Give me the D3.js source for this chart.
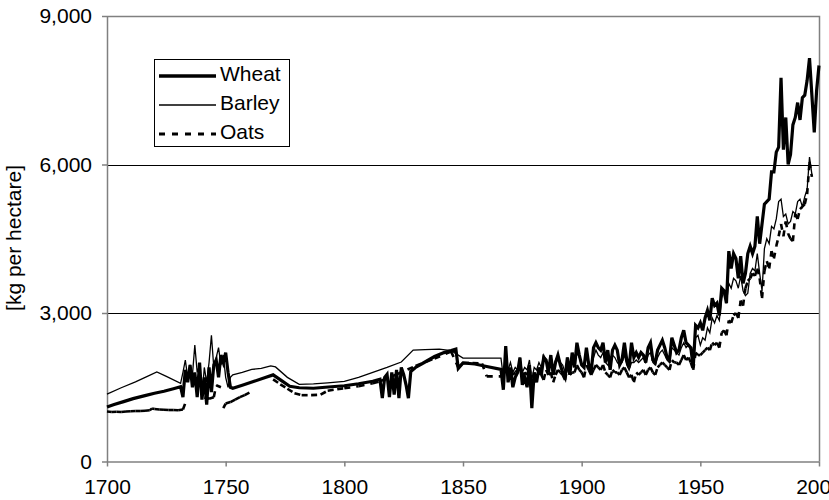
<!DOCTYPE html>
<html>
<head>
<meta charset="utf-8">
<script src="https://cdn.jsdelivr.net/npm/d3@7"></script>
<style>
body { margin: 0; background: #fff; }
text { font-family: "Liberation Sans", Arial, sans-serif; fill: #000; }
</style>
</head>
<body>
<svg id="chart" width="829" height="500"></svg>
<script>
// yields in kg per hectare, [year, value]; null breaks the line
const wheat = [
  [1700,1100],[1703,1150],[1707,1210],[1711,1270],[1716,1330],[1720,1380],[1724,1420],[1728,1470],[1731,1510],
  [1732,1300],[1733,1850],[1734,1600],[1735,1950],[1736,1500],[1737,1800],[1738,1300],[1739,2000],[1740,1250],
  [1741,1700],[1742,1150],[1743,1900],[1744,1400],[1745,1950],[1746,2050],[1747,1700],[1748,2150],[1749,2000],
  [1750,2200],[1751,1800],[1752,1500],[1753,1480],[1757,1540],[1762,1620],[1767,1700],[1770,1750],[1774,1620],
  [1777,1520],[1781,1490],[1787,1480],[1792,1500],[1800,1530],[1806,1570],[1812,1620],[1815,1660],
  [1816,1280],[1817,1700],[1818,1760],[1819,1300],[1820,1800],[1821,1350],[1822,1850],[1823,1280],[1824,1900],
  [1825,1760],[1826,1550],[1827,1280],[1828,1820],[1830,1900],[1834,2010],[1838,2120],[1842,2200],[1845,2240],
  [1847,2270],[1848,1880],[1850,1990],[1855,1970],[1860,1920],[1866,1860],
  [1867,1450],[1868,2330],[1869,1600],[1870,1900],[1871,1500],[1872,1700],[1873,1800],[1874,2100],[1875,1550],
  [1876,1700],[1877,1500],[1878,1950],[1879,1080],[1880,1800],[1881,1600],[1882,1900],[1883,1750],[1884,2100],
  [1885,2050],[1886,1800],[1887,2150],[1888,1750],[1889,2000],[1890,2150],[1891,1950],[1892,1800],[1893,1700],
  [1894,2100],[1895,1750],[1896,2200],[1897,1900],[1898,2400],[1899,2150],[1900,1950],[1901,1900],[1902,2300],
  [1903,1950],[1904,1800],[1905,2300],[1906,2400],[1907,2300],[1908,2250],[1909,2400],[1910,2000],[1911,2250],
  [1912,1850],[1913,2250],[1914,2350],[1915,2250],[1916,1950],[1917,2050],[1918,2400],[1919,2050],[1920,1900],
  [1921,2400],[1922,2100],[1923,2200],[1924,2100],[1925,2200],[1926,2150],[1927,2000],[1928,2300],[1929,2400],
  [1930,2050],[1931,2000],[1932,2250],[1933,2350],[1934,2450],[1935,2300],[1936,2100],[1937,2050],[1938,2500],
  [1939,2350],[1940,2200],[1941,2250],[1942,2500],[1943,2650],[1944,2400],[1945,2350],[1946,2300],[1947,1900],
  [1948,2750],[1949,2700],[1950,2800],[1951,2650],[1952,2900],[1953,3050],[1954,2850],[1955,3300],[1956,3150],
  [1957,3200],[1958,2950],[1959,3500],[1960,3450],[1961,3200],[1962,4250],[1963,3900],[1964,4200],[1965,4100],
  [1966,3700],[1967,4150],[1968,3600],[1969,3800],[1970,4200],[1971,4350],[1972,4200],[1973,4350],[1974,4950],
  [1975,4400],[1976,4800],[1977,5200],[1978,5250],[1979,5300],[1980,5850],[1981,5850],[1982,6250],[1983,6350],
  [1984,7750],[1985,6300],[1986,6950],[1987,6000],[1988,6200],[1989,6800],[1990,6950],[1991,7250],[1992,6900],
  [1993,7350],[1994,7400],[1995,7700],[1996,8150],[1997,7400],[1998,6650],[1999,7500],[2000,8000]
];

const barley = [
  [1700,1360],[1706,1490],[1712,1610],[1717,1720],[1721,1810],[1725,1720],[1731,1580],
  [1732,1800],[1733,2050],[1734,1700],[1735,1950],[1736,1750],[1737,2350],[1738,1800],[1739,1950],[1740,1300],
  [1741,1900],[1742,1600],[1743,2000],[1744,2550],[1745,1900],[1746,2100],[1747,2300],[1748,1950],[1749,2150],
  [1750,1700],[1751,1500],[1752,1700],[1753,1750],[1757,1800],[1761,1860],[1765,1880],[1769,1930],[1771,1910],
  [1776,1700],[1781,1560],[1787,1570],[1793,1590],[1800,1620],[1806,1700],[1812,1800],[1818,1900],[1824,2010],
  [1829,2250],[1834,2260],[1840,2270],[1845,2240],[1850,2090],[1858,2090],[1866,2090],
  [1867,1700],[1868,2100],[1869,1850],[1870,2000],[1871,1800],[1872,1900],[1873,1850],[1874,2100],[1875,1800],
  [1876,1900],[1877,1850],[1878,2050],[1879,1650],[1880,1900],[1881,1850],[1882,2000],[1883,1900],[1884,2150],
  [1885,2050],[1886,1950],[1887,2000],[1888,1850],[1889,2050],[1890,2150],[1891,2000],[1892,1950],[1893,1800],
  [1894,2100],[1895,1900],[1896,2050],[1897,1950],[1898,2200],[1899,2100],[1900,1950],[1901,1900],[1902,2200],
  [1903,2000],[1904,1900],[1905,2100],[1906,2250],[1907,2150],[1908,2100],[1909,2200],[1910,2000],[1911,1950],
  [1912,1900],[1913,2150],[1914,2100],[1915,2000],[1916,1950],[1917,2000],[1918,2150],[1919,1950],[1920,1850],
  [1921,2000],[1922,2000],[1923,2050],[1924,2000],[1925,2050],[1926,2100],[1927,2000],[1928,2150],[1929,2200],
  [1930,2000],[1931,1950],[1932,2100],[1933,2200],[1934,2250],[1935,2150],[1936,2050],[1937,2000],[1938,2300],
  [1939,2250],[1940,2200],[1941,2150],[1942,2300],[1943,2400],[1944,2300],[1945,2350],[1946,2250],[1947,2000],
  [1948,2500],[1949,2550],[1950,2350],[1951,2500],[1952,2450],[1953,2700],[1954,2600],[1955,2900],[1956,2800],
  [1957,2950],[1958,2850],[1959,3300],[1960,3450],[1961,3200],[1962,3600],[1963,3500],[1964,3700],[1965,3650],
  [1966,3500],[1967,3750],[1968,3450],[1969,3350],[1970,3400],[1971,3800],[1972,3900],[1973,3850],[1974,4200],
  [1975,3800],[1976,3450],[1977,4300],[1978,4500],[1979,4400],[1980,4750],[1981,4700],[1982,4900],[1983,5250],
  [1984,5300],[1985,4950],[1986,5000],[1987,4800],[1988,4850],[1989,5050],[1990,5000],[1991,5250],[1992,5300],
  [1993,5150],[1994,5350],[1995,5500],[1996,6150],[1997,5800]
];

const oats = [
  [1700,1010],[1702,1000],[1704,1005],[1706,1000],[1708,1010],[1710,1015],[1712,1020],[1714,1020],[1716,1025],
  [1718,1035],[1719,1070],[1720,1060],[1722,1050],[1724,1045],[1726,1040],[1728,1040],[1730,1035],[1732,1050],
  [1733,1180],[1734,null],
  [1741,1290],[1743,1270],[1745,1300],[1746,1540],[1748,1500],[1748.5,null],
  [1749,1080],[1750,1170],[1752,1200],[1754,1250],[1756,1300],[1758,1340],[1760,1390],[1761,null],
  [1770,1660],[1773,1560],[1776,1470],[1779,1380],[1782,1340],[1786,1340],[1790,1350],[1793,1430],[1797,1460],
  [1800,1480],[1806,1520],[1812,1580],[1815,1620],[1822,1760],[1830,1930],[1838,2080],[1845,2220],[1848,1900],
  [1850,1990],[1854,1990],[1858,1980],[1860,1720],[1866,1720],
  [1867,1750],[1868,1950],[1869,1800],[1870,1850],[1871,1750],[1872,1800],[1873,1850],[1874,1950],[1875,1700],
  [1876,1800],[1877,1750],[1878,1900],[1879,1550],[1880,1750],[1881,1700],[1882,1800],[1883,1750],[1884,1650],
  [1885,1850],[1886,1750],[1887,1800],[1888,1600],[1889,1750],[1890,1850],[1891,1800],[1892,1750],[1893,1650],
  [1894,1900],[1895,1750],[1896,1800],[1897,1800],[1898,1950],[1899,1850],[1900,1800],[1901,1700],[1902,1950],
  [1903,1850],[1904,1750],[1905,1850],[1906,1950],[1907,1900],[1908,1850],[1909,1950],[1910,1800],[1911,1750],
  [1912,1700],[1913,1850],[1914,1800],[1915,1800],[1916,1750],[1917,1850],[1918,1900],[1919,1800],[1920,1700],
  [1921,1750],[1922,1600],[1923,1800],[1924,1750],[1925,1800],[1926,1850],[1927,1750],[1928,1850],[1929,1900],
  [1930,1800],[1931,1750],[1932,1900],[1933,1950],[1934,2000],[1935,1950],[1936,1900],[1937,1850],[1938,2050],
  [1939,2000],[1940,2000],[1941,1950],[1942,2050],[1943,2150],[1944,2050],[1945,2100],[1946,2000],[1947,1850],
  [1948,2200],[1949,2150],[1950,2150],[1951,2200],[1952,2250],[1953,2300],[1954,2250],[1955,2400],[1956,2350],
  [1957,2400],[1958,2300],[1959,2600],[1960,2650],[1961,2550],[1962,2850],[1963,2800],[1964,2950],[1965,3000],
  [1966,2900],[1967,3250],[1968,3150],[1969,3500],[1970,3650],[1971,3700],[1972,3800],[1973,3750],[1974,3900],
  [1975,3700],[1976,3300],[1977,3850],[1978,4050],[1979,3900],[1980,4250],[1981,4100],[1982,4350],[1983,4550],
  [1984,4800],[1985,4550],[1986,4850],[1987,4600],[1988,4500],[1989,4450],[1990,5000],[1991,4900],[1992,5100],
  [1993,5150],[1994,5200],[1995,5400],[1996,6050],[1997,5750]
];

const seriesNames = ["Wheat", "Barley", "Oats"];
const xTicks = [1700, 1750, 1800, 1850, 1900, 1950, 2000];
const yTicks = [0, 3000, 6000, 9000];
const yLabel = "[kg per hectare]";

const svg = d3.select("#chart");
const plotLeft = 107, plotRight = 819, plotTop = 16, plotBottom = 461.5;
const fontSize = 21;

const x = d3.scaleLinear().domain([1700, 2000]).range([plotLeft, plotRight]);
const y = d3.scaleLinear().domain([0, 9000]).range([plotBottom, plotTop]);

// gridlines at the inner ticks
svg.append("g")
    .selectAll("line")
    .data(yTicks.filter(d => d > 0 && d < 9000))
    .enter().append("line")
    .attr("x1", plotLeft).attr("x2", plotRight)
    .attr("y1", d => Math.round(y(d)) + 0.5)
    .attr("y2", d => Math.round(y(d)) + 0.5)
    .attr("stroke", "#000").attr("stroke-width", 1);

// plot frame: top and right
svg.append("path")
    .attr("d", `M${plotLeft},${plotTop + 0.5}H${plotRight + 0.5}V${plotBottom}`)
    .attr("fill", "none").attr("stroke", "#808080").attr("stroke-width", 1.5);

const yAxis = svg.append("g")
    .attr("transform", `translate(${plotLeft},0)`)
    .call(d3.axisLeft(y).tickValues(yTicks).tickFormat(d3.format(","))
        .tickSize(5).tickSizeOuter(0).tickPadding(10));

const xAxis = svg.append("g")
    .attr("transform", `translate(0,${plotBottom})`)
    .call(d3.axisBottom(x).tickValues(xTicks).tickFormat(d3.format("d"))
        .tickSize(5).tickSizeOuter(0).tickPadding(13));

[yAxis, xAxis].forEach(ax => {
    ax.select(".domain").attr("stroke", "#808080").attr("stroke-width", 1.5);
    ax.selectAll(".tick line").attr("stroke", "#808080").attr("stroke-width", 1.5);
    ax.selectAll(".tick text")
        .attr("font-size", fontSize)
        .attr("font-family", "Liberation Sans, Arial, sans-serif")
        .attr("fill", "#000");
});

svg.append("text")
    .attr("transform", "translate(21,238) rotate(-90)")
    .attr("text-anchor", "middle")
    .attr("font-size", fontSize)
    .text(yLabel);

const line = d3.line()
    .defined(d => d[1] != null)
    .x(d => x(d[0]))
    .y(d => y(d[1]));

const lines = svg.append("g").attr("fill", "none").attr("stroke", "#000")
    .attr("stroke-linejoin", "miter");

lines.append("path").datum(barley)
    .attr("d", line).attr("stroke-width", 1.3);

lines.append("path").datum(wheat)
    .attr("d", line).attr("stroke-width", 3.2);

// oats: dash pattern restarts on every segment, as in the original
lines.append("g").selectAll("path")
    .data(d3.pairs(oats).filter(([a, b]) => a[1] != null && b[1] != null))
    .enter().append("path")
    .attr("d", d => line(d))
    .attr("stroke-width", 2.6)
    .attr("stroke-dasharray", "6,6");

// legend
const legend = svg.append("g");
legend.append("rect")
    .attr("x", 154.5).attr("y", 59.5).attr("width", 135).attr("height", 87)
    .attr("fill", "#fff").attr("stroke", "#000").attr("stroke-width", 1);

const legendStyle = {
    Wheat: { w: 3.4, dash: null },
    Barley: { w: 1.3, dash: null },
    Oats: { w: 2.8, dash: "6,7" }
};

const item = legend.selectAll("g.item")
    .data(seriesNames)
    .enter().append("g")
    .attr("class", "item")
    .attr("transform", (d, i) => `translate(0,${76 + i * 29})`);

item.append("line")
    .attr("x1", 159).attr("x2", 216)
    .attr("stroke", "#000")
    .attr("stroke-width", d => legendStyle[d].w)
    .attr("stroke-dasharray", d => legendStyle[d].dash);

item.append("text")
    .attr("x", 220).attr("y", 5)
    .attr("font-size", fontSize)
    .text(d => d);
</script>
</body>
</html>
